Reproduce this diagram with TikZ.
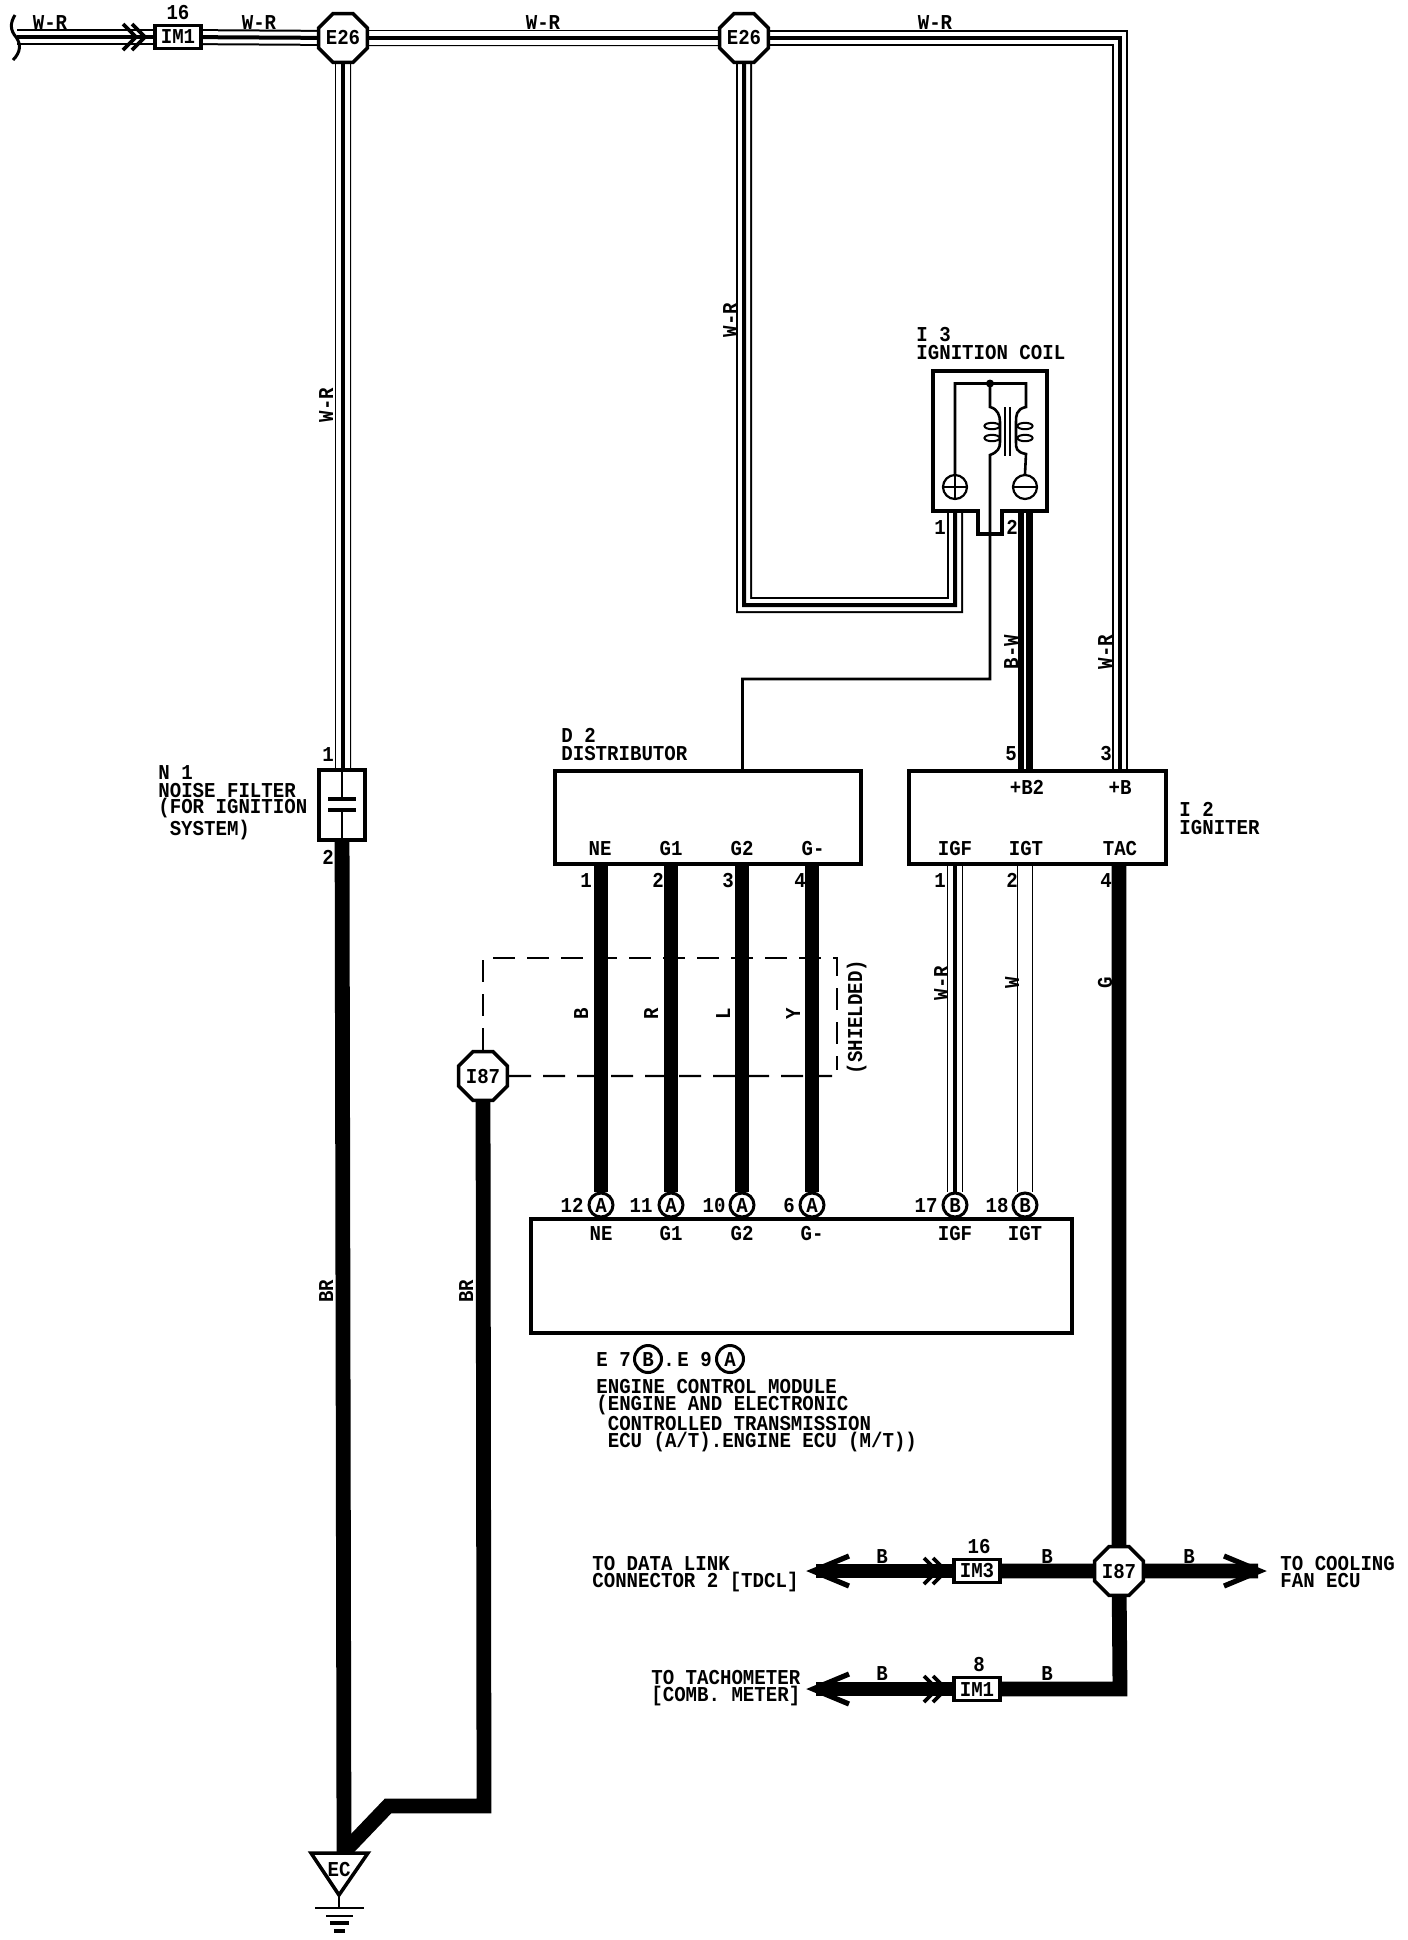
\documentclass[tikz,border=0pt]{standalone}
\usepackage{fontspec}
\usepackage{tikz}
\usetikzlibrary{shapes.geometric, backgrounds}
\newfontfamily\wirefont{Liberation Mono}[FakeStretch=0.9]
\newcommand{\wirelbl}{\wirefont\bfseries\fontsize{10.6}{8.3}\selectfont}
\newcommand{\charsp}{\hspace*{5.7pt}}

\begin{document}
\begin{tikzpicture}
[x=.5pt, y=-.5pt, line join=miter,
lbl/.style={font=\wirelbl, inner sep=0pt, text height=7pt, text depth=0pt},
lblblock/.style={font=\wirelbl, inner sep=0pt, align=left, anchor=north west},
octa/.style={regular polygon, regular polygon sides=8, draw=black, fill=white, line width=1.75pt, minimum size=26pt, inner sep=0pt, font=\wirelbl},
unitbox/.style={rectangle, draw=black, fill=white, line width=1.75pt, inner sep=0pt},
conbox/.style={unitbox, minimum width=23pt, minimum height=11.5pt, font=\wirelbl},
pincirc/.style={circle, draw=black, fill=white, line width=1.5pt, minimum size=12pt, inner sep=0pt, font=\wirelbl},
wirethk/.style={draw=black, line width=7.4pt},
wirefine/.style={draw=black, line width=1.3pt},
wirewr/.style={draw=black, line width=1.8pt,
  preaction={draw=black, line width=8pt},
  preaction={draw=white, line width=6.8pt}},
wirewrh/.style={draw=black, line width=2pt,
  preaction={draw=black, line width=8pt},
  preaction={draw=white, line width=6pt}},
wirew/.style={draw=black, line width=.5pt, double=white, double distance=6.6pt},
wirebw/.style={draw=black, line width=7.5pt, postaction={draw=white, line width=.9pt}},
shieldln/.style={draw=black, line width=1.1pt, dash pattern=on 11pt off 6pt},
chevs/.pic={\draw[line width=1.8pt] (-18,-13) -- (-5,0) -- (-18,13) (-9,-13) -- (4,0) -- (-9,13);},
barbend/.pic={\draw[line width=2.6pt] (-36,-15) -- (0,0) -- (-36,15);}]

\useasboundingbox (0,0) rectangle (1408,1940);

% junctions
\node[octa] (e26a) at (343,38) {E26};
\node[octa] (e26b) at (744,38) {E26};
\node[octa] (i87a) at (483,1076) {I87};
\node[octa] (i87b) at (1119,1571) {I87};

% units
\node[unitbox, minimum width=153pt, minimum height=46.5pt] (dist) at (708,817.5) {};
\node[unitbox, minimum width=128.5pt, minimum height=46.5pt] (ign) at (1037.5,817.5) {};
\node[unitbox, minimum width=270.5pt, minimum height=57pt] (ecm) at (801.5,1276) {};
\node[unitbox, line width=1.6pt, minimum width=23pt, minimum height=35pt] (nfilter) at (342,805) {};

% inline connectors
\node[conbox] (im1a) at (178,37) {IM1};
\node[conbox] (im3) at (977,1571) {IM3};
\node[conbox] (im1b) at (977,1689) {IM1};

% coil outline
\draw[black, fill=white, line width=1.75pt] (933,371) -- (1047,371) -- (1047,511) -- (1002,511) -- (1002,534) -- (978,534) -- (978,511) -- (933,511) -- cycle;
\node[pincirc, line width=1.1pt] (coilplus) at (955,487) {};
\node[pincirc, line width=1.1pt] (coilminus) at (1025,487) {};

% ECM pins
\foreach \n/\x/\t in {ne/601/A, ga/671/A, gb/742/A, gm/812/A, igf/955/B, igt/1025/B}
  \node[pincirc] (ecm\n) at (\x,1205) {\t};

% free ends
\coordinate (wstart) at (17,37);
\coordinate (wcoil) at (744,605);
\coordinate (gnd) at (344,1852);
\coordinate (gndb) at (388,1806);
\coordinate (gndc) at (484,1806);
\coordinate (tipl) at (816,1571);
\coordinate (tipr) at (1258,1571);
\coordinate (tipt) at (816,1689);
\coordinate (wtach) at (1120,1689);
\coordinate (shtl) at (483,958);
\coordinate (shtr) at (837,958);
\coordinate (shbr) at (837,1070);
\coordinate (shb) at (832,1076);

\begin{scope}[on background layer]
\fill[white] (0,0) rectangle (1408,1940);
\draw[shieldln] (i87a) -- (shtl) -- (shtr) -- (shbr);
\draw[shieldln] (i87a) -- (shb);
\draw[wirewrh] (wstart) -- (im1a);
\draw[wirewrh] (im1a) -- (e26a);
\draw[wirewr] (e26a) -- (e26b);
\draw[wirewrh] (e26b) -| (ign.north -| 1119.5,0);
\draw[wirewr] (e26a) -- (e26a |- nfilter.north);
\draw[wirewrh] (e26b) -- (wcoil) -| (coilplus);
\draw[wirebw] (coilminus) -- (coilminus |- ign.center);
\draw[wirethk] (nfilter) -- (gnd);
\draw[wirethk] (i87a) -- (gndc) -- (gndb) -- (gnd);
\draw[wirethk] (ecmne) -- (ecmne |- dist.center);
\draw[wirethk] (ecmga) -- (ecmga |- dist.center);
\draw[wirethk] (ecmgb) -- (ecmgb |- dist.center);
\draw[wirethk] (ecmgm) -- (ecmgm |- dist.center);
\draw[wirewr] (ecmigf) -- (ecmigf |- ign.center);
\draw[wirew] (ecmigt) -- (ecmigt |- ign.center);
\draw[wirethk] (i87b) -- (i87b |- ign.center);
\draw[wirethk] (tipl) -- (im3);
\draw[wirethk] (im3) -- (i87b);
\draw[wirethk] (i87b) -- (tipr);
\draw[wirethk] (i87b) -- (wtach) -- (im1b);
\draw[wirethk] (tipt) -- (im1b);
\end{scope}

% coil inside
\node[circle, fill=black, inner sep=0pt, minimum size=4pt] (coildot) at (990,383.5) {};
\draw[wirefine] (coilplus.north) |- (coildot.center) -| (1026,407) .. controls (1016,409) and (1016,416) .. (1016,422) -- (1016,442) .. controls (1016,448) and (1016,452) .. (1026,454) -- (coilminus.north);
\draw[wirefine] (coildot.center) -- (990,407) .. controls (998,409) and (1000,416) .. (1000,422) -- (1000,442) .. controls (1000,448) and (998,452) .. (990,455) -- (990,679) -- (742.5,679) -- (742.5,0 |- dist.north);
\draw[wirefine] (1005,407) -- (1005,456) (1010,407) -- (1010,456);
\foreach \x in {992,1025} \foreach \y in {426,438}
  \draw[black, fill=white, line width=1pt] (\x,\y) ellipse (3.8pt and 1.6pt);
\draw[wirefine] (coilplus.north) -- (coilplus.south) (coilplus.west) -- (coilplus.east);
\draw[wirefine] (coilminus.west) -- (coilminus.east);

% nfilter inside
\draw[wirefine] (nfilter.north) -- (342,799) (342,810) -- (nfilter.south);
\draw[line width=1.6pt] (328,799) -- (356,799) (328,810) -- (356,810);

% ground
\draw[black, fill=white, line width=1.75pt] (311,1853) -- (368,1853) -- (339,1895) -- cycle;
\node[lbl] (eclbl) at (339,1869) {EC};
\draw[line width=1.3pt] (339,1896) -- (339,1908);
\draw[line width=1.3pt] (315,1908) -- (364,1908);
\draw[line width=1.3pt] (326,1916) -- (353,1916);
\draw[line width=1.6pt] (330,1923) -- (349,1923);
\draw[line width=1.6pt] (334,1931) -- (345,1931);

% left end bracket
\draw[line width=1.5pt] (15,15) .. controls (10,23) and (10,30) .. (16,37) .. controls (21,44) and (21,52) .. (13,60);

% wire ends
\pic at (141,37) {chevs};
\pic at (942,1571) {chevs};
\pic at (942,1689) {chevs};
\pic at (1260,1571) {barbend};
\pic[rotate=180] at (813,1571) {barbend};
\pic[rotate=180] at (813,1689) {barbend};

% wire colours
\node[lbl] (wra) at (50,22) {W-R};
\node[lbl] (wrb) at (259,22) {W-R};
\node[lbl] (wrc) at (543,22) {W-R};
\node[lbl] (wrd) at (935,22) {W-R};
\node[lbl, rotate=90] (wre) at (326,405) {W-R};
\node[lbl, rotate=90] (wrf) at (730,320) {W-R};
\node[lbl, rotate=90] (bwa) at (1011,652) {B-W};
\node[lbl, rotate=90] (wrg) at (1105,652) {W-R};
\node[lbl, rotate=90] (wrh) at (941,983) {W-R};
\node[lbl, rotate=90] (wa) at (1012,983) {W};
\node[lbl, rotate=90] (ga) at (1105,983) {G};
\node[lbl, rotate=90] (bra) at (326,1291) {BR};
\node[lbl, rotate=90] (brb) at (466,1291) {BR};
\foreach \x/\t in {581/B, 651/R, 723/L, 793/Y}
  \node[lbl, rotate=90] (col\t) at (\x,1014) {\t};
\node[lbl, rotate=90] (shld) at (855,1017) {(SHIELDED)};
\foreach \x/\y/\n in {882/1556/a, 1047/1556/b, 1189/1556/c, 882/1673/d, 1047/1673/e}
  \node[lbl] (blk\n) at (\x,\y) {B};

% pin numbers
\node[lbl] (pa) at (178,12) {16};
\node[lbl] (pb) at (979,1546) {16};
\node[lbl] (pc) at (979,1664) {8};
\foreach \x/\y/\n in {328/754/1, 328/857/2, 940/527/1, 1012/527/2, 1011/753/5, 1106/753/3, 586/880/1, 658/880/2, 728/880/3, 800/880/4, 940/880/1, 1012/880/2, 1106/880/4}
  \node[lbl] (pin\x-\y) at (\x,\y) {\n};
\foreach \x/\n in {572/12, 641/11, 714/10, 789/6, 926/17, 997/18}
  \node[lbl] (epin\x) at (\x,1205) {\n};

% terminals
\foreach \x/\t in {600/NE, 671/G1, 742/G2, 813/G-}
  \node[lbl] (dt\t) at (\x,848) {\t};
\foreach \x/\t in {955/IGF, 1026/IGT, 1120/TAC}
  \node[lbl] (it\t) at (\x,848) {\t};
\node[lbl] (itbb) at (1027,787) {+B2};
\node[lbl] (itb) at (1120,787) {+B};
\foreach \x/\t in {601/NE, 671/G1, 742/G2, 812/G-, 955/IGF, 1025/IGT}
  \node[lbl] (et\t) at (\x,1233) {\t};

% unit names
\node[lblblock] (coillbl) at (916,327) {I 3\\[.8pt]IGNITION COIL};
\node[lblblock] (distlbl) at (561,728) {D 2\\[.8pt]DISTRIBUTOR};
\node[lblblock] (ignlbl) at (1179,802) {I 2\\[.8pt]IGNITER};
\node[lblblock] (nflbl) at (158,765) {N 1\\[.6pt]NOISE FILTER\\(FOR IGNITION\\\charsp SYSTEM)};
\node[lblblock] (ecmlbl) at (596,1379) {ENGINE CONTROL MODULE\\(ENGINE AND ELECTRONIC\\\charsp CONTROLLED TRANSMISSION\\\charsp ECU (A/T).ENGINE ECU (M/T))};
\node[lbl, anchor=west] (eseven) at (596,1359) {E 7};
\node[pincirc, minimum size=13.5pt] (ecmb) at (648,1359) {B};
\node[lbl] (edot) at (669,1359) {.};
\node[lbl, anchor=west] (enine) at (677,1359) {E 9};
\node[pincirc, minimum size=13.5pt] (ecma) at (730,1359) {A};

% destinations
\node[lblblock] (tdcl) at (592,1556) {TO DATA LINK\\CONNECTOR 2 {[}TDCL]};
\node[lblblock] (tach) at (651,1670) {TO TACHOMETER\\{[}COMB. METER]};
\node[lblblock] (cfan) at (1280,1556) {TO COOLING\\FAN ECU};
\end{tikzpicture}
\end{document}
